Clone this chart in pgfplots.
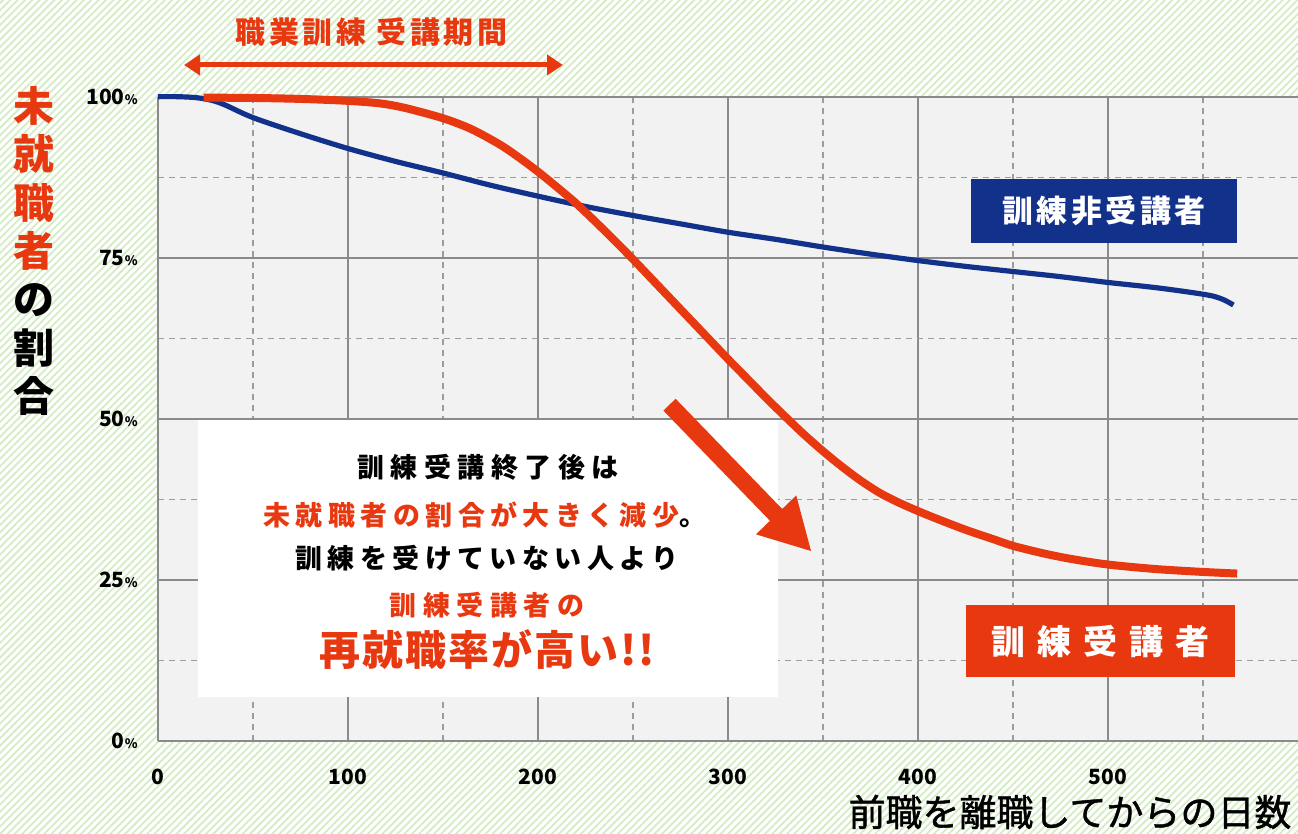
\documentclass[border=0pt]{standalone}
\usepackage{fontspec}
\setmainfont{Noto Sans CJK JP}
\usepackage{pgfplots}
\pgfplotsset{compat=1.18}
\usetikzlibrary{patterns.meta,arrows.meta}
\definecolor{jred}{RGB}{232,56,16}
\definecolor{jblue}{RGB}{18,49,138}
\definecolor{hatch}{RGB}{212,236,196}
\definecolor{plotbg}{RGB}{242,242,242}
\definecolor{gridc}{RGB}{138,138,138}
\newcommand{\pct}{{\fontsize{6.5pt}{6.5pt}\selectfont\%}}
\begin{document}
\begin{tikzpicture}
\useasboundingbox (0,0) rectangle (649pt,417pt);
\fill[white] (0,0) rectangle (649pt,417pt);
\fill[pattern={Lines[angle=45,distance=2.6pt,line width=0.9pt]},pattern color=hatch] (0,0) rectangle (649pt,417pt);
\begin{axis}[at={(79pt,46.5pt)}, anchor=south west, scale only axis,
  width=570pt, height=322pt,
  xmin=0, xmax=600, ymin=0, ymax=100,
  axis lines*=left, axis line style={gridc, line width=1pt},
  axis background/.style={fill=plotbg},
  clip=false,
  xtick={0,100,200,300,400,500}, xticklabels={0,100,200,300,400,500},
  minor xtick={50,150,250,350,450,550},
  ytick={0,25,50,75,100}, yticklabels={0\pct,25\pct,50\pct,75\pct,100\pct},
  minor ytick={12.5,37.5,62.5,87.5},
  major tick length=0pt, minor tick length=0pt,
  grid=both,
  major grid style={gridc, line width=0.75pt},
  minor grid style={gridc!85, line width=0.6pt, dash pattern=on 3pt off 2.5pt},
  tick label style={font=\fontsize{10.5pt}{12pt}\selectfont\bfseries, inner sep=0pt},
  xticklabel style={anchor=center, yshift=-18pt},
  yticklabel style={anchor=east, xshift=-10pt},
]
\addplot[jblue, line width=2.6pt, smooth, line join=round] coordinates {
(0,100.05) (10,100.05) (20,99.9) (28,99.5) (35,98.8) (50,96.8) (75,94.3) (100,92.0)
(125,90.0) (150,88.2) (175,86.3) (200,84.6) (225,83.0) (250,81.6) (275,80.3)
(300,79.0) (325,77.9) (350,76.7) (375,75.6) (400,74.6) (425,73.7) (450,72.9)
(475,72.1) (500,71.2) (525,70.4) (545,69.6) (555,69.1) (561,68.5) (566,67.7)
};
\addplot[jred, line width=4pt, smooth, line join=round] coordinates {
(24,99.9) (50,99.85) (75,99.7) (100,99.4) (117,99.0) (130,98.3) (150,96.7)
(165,95.0) (180,92.6) (190,90.6) (200,88.4) (210,86.0) (220,83.5) (230,80.7)
(240,77.8) (250,74.8) (260,71.7) (270,68.6) (280,65.5) (290,62.4) (300,59.3)
(310,56.3) (320,53.3) (330,50.4) (340,47.6) (350,45.0) (360,42.6) (370,40.4)
(380,38.5) (390,37.0) (400,35.7) (410,34.5) (425,32.8) (440,31.3) (450,30.3)
(465,29.2) (480,28.3) (500,27.4) (525,26.7) (550,26.25) (568,26.0)
};
\end{axis}
\begin{scope}[shift={(0pt,417pt)}, x=0.5pt, y=-0.5pt]
% top annotation
\node[text=jred, inner sep=0pt, font=\fontsize{15pt}{15pt}\selectfont\bfseries\addfontfeatures{LetterSpace=12}] at (371.5,32) {職業訓練 受講期間};
\draw[jred, line width=2.5pt, {Triangle[length=8pt,width=10pt]}-{Triangle[length=8pt,width=10pt]}] (184,65) -- (563,65);
% y label
\node[align=center, inner sep=0pt, font=\fontsize{20.5pt}{24.2pt}\selectfont\bfseries] at (34,251)
 {\textcolor{jred}{未}\\\textcolor{jred}{就}\\\textcolor{jred}{職}\\\textcolor{jred}{者}\\の\\割\\合};
% x label
\node[inner sep=0pt, font=\fontsize{18.5pt}{18.5pt}\selectfont\addfontfeatures{FakeBold=1.2}] at (1070,812) {前職を離職してからの日数};
% series labels
\node[fill=jblue, text=white, minimum width=133pt, minimum height=32pt, inner sep=0pt,
  font=\fontsize{15.5pt}{15.5pt}\selectfont\bfseries\addfontfeatures{LetterSpace=11}] at (1104,211) {訓練非受講者};
\node[fill=jred, text=white, minimum width=134.5pt, minimum height=36pt, inner sep=0pt,
  font=\fontsize{17pt}{17pt}\selectfont\bfseries\addfontfeatures{LetterSpace=36}] at (1100.5,641) {訓練受講者};
% white box
\fill[white] (198,420) rectangle (778,697);
\node[inner sep=0pt, font=\fontsize{13.5pt}{16pt}\selectfont\bfseries\addfontfeatures{LetterSpace=24}] at (488,467) {訓練受講終了後は};
\node[inner sep=0pt, font=\fontsize{13.5pt}{16pt}\selectfont\bfseries\addfontfeatures{LetterSpace=20}] at (485,515) {\textcolor{jred}{未就職者の割合が大きく減少}。};
\node[inner sep=0pt, font=\fontsize{13.5pt}{16pt}\selectfont\bfseries\addfontfeatures{LetterSpace=20}] at (487,558) {訓練を受けていない人より};
\node[inner sep=0pt, text=jred, font=\fontsize{13.5pt}{16pt}\selectfont\bfseries\addfontfeatures{LetterSpace=24}] at (487,605) {訓練受講者の};
\node[inner sep=0pt, text=jred, font=\fontsize{20.5pt}{22pt}\selectfont\bfseries\addfontfeatures{LetterSpace=5}] at (487,650) {再就職率が高い!!};
% big arrow
\draw[jred, line width=8.5pt, -{Triangle[length=25.6pt,width=26pt]}] (669.5,404.7) -- (811.7,551.7);
\end{scope}
\end{tikzpicture}
\end{document}
